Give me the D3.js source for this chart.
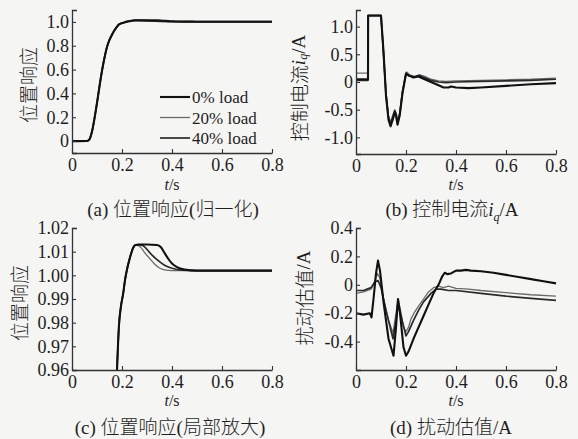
<!DOCTYPE html>
<html>
<head>
<meta charset="utf-8">
<script src="https://cdn.jsdelivr.net/npm/d3@7"></script>
<style>
  html, body { margin: 0; padding: 0; background: #f5f5f3; }
  svg { display: block; }
  text { fill: #1e1e1e; font-family: "Liberation Serif", "Noto Sans CJK SC", serif; }
  .cjk { font-family: "Noto Sans CJK SC", sans-serif; font-weight: 300; }
</style>
</head>
<body>
<svg id="fig" width="578" height="439"></svg>
<script>
// ---- data ----
const seriesNames = ["0% load", "20% load", "40% load"];

// shared time axis ticks
const xTicks = [0, 0.2, 0.4, 0.6, 0.8];
const xTickLabels = ["0", "0.2", "0.4", "0.6", "0.8"];

// (a)/(c) position response, normalised
const posRise = [
  [0, 0], [0.03, 0], [0.06, 0.001], [0.07, 0.015], [0.08, 0.08], [0.09, 0.19],
  [0.1, 0.32], [0.11, 0.46], [0.12, 0.59], [0.13, 0.7], [0.14, 0.79],
  [0.15, 0.85], [0.16, 0.893], [0.17, 0.93], [0.18, 0.96], [0.188, 0.979],
  [0.196, 0.987], [0.205, 0.9925], [0.212, 0.998], [0.22, 1.0025],
  [0.228, 1.006], [0.236, 1.009], [0.244, 1.0115], [0.252, 1.0127]
];
const posTail0 = [
  [0.27, 1.013], [0.3, 1.013], [0.34, 1.0128], [0.355, 1.012], [0.37, 1.0095],
  [0.385, 1.007], [0.4, 1.005], [0.42, 1.0035], [0.45, 1.0025], [0.5, 1.002],
  [0.6, 1.002], [0.8, 1.002]
];
const posTail20 = [
  [0.262, 1.0127], [0.275, 1.0118], [0.29, 1.0097], [0.31, 1.0072],
  [0.33, 1.0048], [0.35, 1.0031], [0.37, 1.0023], [0.4, 1.002], [0.8, 1.002]
];
const posTail40 = [
  [0.265, 1.013], [0.285, 1.0125], [0.31, 1.0097], [0.34, 1.0066],
  [0.37, 1.0043], [0.4, 1.003], [0.44, 1.0022], [0.5, 1.002], [0.8, 1.002]
];

// (b) control current i_q / A
const iq0 = [
  [0, 0.05], [0.048, 0.05], [0.0485, 1.2], [0.1, 1.2], [0.11, 0.55], [0.12, -0.25],
  [0.13, -0.68], [0.138, -0.8], [0.147, -0.68], [0.155, -0.55], [0.16, -0.6],
  [0.166, -0.77], [0.175, -0.6], [0.186, -0.2], [0.2, 0.15], [0.21, 0.12],
  [0.23, 0.08], [0.25, 0.1], [0.27, 0.06], [0.3, 0.0], [0.33, -0.06],
  [0.35, -0.1], [0.37, -0.1], [0.38, -0.08], [0.4, -0.1], [0.45, -0.11],
  [0.5, -0.1], [0.6, -0.07], [0.7, -0.04], [0.8, -0.02]
];
const iq20 = [
  [0, 0.16], [0.048, 0.16], [0.0485, 1.2], [0.1, 1.2], [0.11, 0.5], [0.12, -0.2],
  [0.13, -0.62], [0.138, -0.72], [0.147, -0.6], [0.155, -0.5], [0.16, -0.55],
  [0.166, -0.7], [0.175, -0.55], [0.186, -0.15], [0.202, 0.18], [0.215, 0.13],
  [0.235, 0.1], [0.255, 0.13], [0.275, 0.1], [0.3, 0.05], [0.33, 0.02],
  [0.36, 0.01], [0.4, 0.02], [0.5, 0.03], [0.6, 0.04], [0.7, 0.05], [0.8, 0.07]
];
const iq40 = [
  [0, 0.03], [0.048, 0.03], [0.0485, 1.2], [0.1, 1.2], [0.11, 0.52], [0.12, -0.22],
  [0.13, -0.65], [0.138, -0.76], [0.147, -0.64], [0.155, -0.52], [0.16, -0.58],
  [0.166, -0.74], [0.175, -0.58], [0.186, -0.18], [0.2, 0.16], [0.212, 0.11],
  [0.232, 0.09], [0.252, 0.12], [0.272, 0.08], [0.3, 0.03], [0.33, 0.0],
  [0.36, -0.01], [0.4, 0.0], [0.5, 0.01], [0.6, 0.02], [0.7, 0.03], [0.8, 0.05]
];

// (d) disturbance estimate / A
const dist0 = [
  [0, -0.2], [0.03, -0.21], [0.055, -0.2], [0.062, -0.23], [0.07, -0.1],
  [0.08, 0.08], [0.088, 0.17], [0.096, 0.1], [0.11, -0.12], [0.13, -0.38],
  [0.15, -0.5], [0.16, -0.3], [0.168, -0.1], [0.176, -0.2], [0.19, -0.44],
  [0.2, -0.5], [0.21, -0.47], [0.23, -0.38], [0.25, -0.3], [0.27, -0.22],
  [0.29, -0.14], [0.31, -0.06], [0.33, 0.0], [0.345, 0.06], [0.355, 0.085],
  [0.365, 0.075], [0.38, 0.08], [0.4, 0.1], [0.42, 0.1], [0.44, 0.105],
  [0.46, 0.1], [0.5, 0.095], [0.55, 0.085], [0.6, 0.07], [0.65, 0.055],
  [0.7, 0.04], [0.75, 0.025], [0.8, 0.01]
];
const dist20 = [
  [0, -0.06], [0.03, -0.05], [0.06, -0.03], [0.07, 0.0], [0.085, 0.08],
  [0.095, 0.05], [0.11, -0.1], [0.13, -0.25], [0.148, -0.34], [0.16, -0.2],
  [0.168, -0.1], [0.178, -0.18], [0.19, -0.3], [0.2, -0.33], [0.21, -0.3],
  [0.22, -0.24], [0.235, -0.19], [0.25, -0.15], [0.27, -0.1], [0.29, -0.05],
  [0.31, -0.02], [0.33, -0.01], [0.35, -0.02], [0.37, -0.01], [0.4, -0.025],
  [0.45, -0.03], [0.5, -0.04], [0.6, -0.055], [0.7, -0.07], [0.8, -0.08]
];
const dist40 = [
  [0, -0.04], [0.03, -0.04], [0.06, -0.02], [0.075, 0.02], [0.088, 0.03],
  [0.1, -0.02], [0.12, -0.18], [0.148, -0.38], [0.16, -0.25], [0.168, -0.13],
  [0.18, -0.22], [0.2, -0.36], [0.21, -0.33], [0.23, -0.25], [0.25, -0.18],
  [0.27, -0.12], [0.3, -0.06], [0.32, -0.03], [0.34, -0.03], [0.37, -0.04],
  [0.4, -0.04], [0.5, -0.06], [0.6, -0.08], [0.7, -0.095], [0.8, -0.11]
];

// y ticks per panel
const aTicks = [0, 0.2, 0.4, 0.6, 0.8, 1.0];
const aTickLabels = ["0", "0.2", "0.4", "0.6", "0.8", "1.0"];
const bTicks = [-1.0, -0.5, 0, 0.5, 1.0];
const bTickLabels = ["-1.0", "-0.5", "0", "0.5", "1.0"];
const cTicks = [0.96, 0.97, 0.98, 0.99, 1.00, 1.01, 1.02];
const cTickLabels = ["0.96", "0.97", "0.98", "0.99", "1.00", "1.01", "1.02"];
const dTicks = [-0.4, -0.2, 0, 0.2, 0.4];
const dTickLabels = ["-0.4", "-0.2", "0", "0.2", "0.4"];

// ---- styles per series ----
const seriesStroke = ["#111", "#6a6a6a", "#2a2a2a"];
const seriesWidth = [2.1, 1.3, 1.7];

const svg = d3.select("#fig");

function panel(opts) {
  const { id, left, top, bottom, yDomain, yTicks, yLabels, lines, curve } = opts;
  const width = 200;
  const x = d3.scaleLinear().domain([0, 0.8]).range([left, left + width]);
  const y = d3.scaleLinear().domain(yDomain).range([bottom, top]);

  const clipId = "clip-" + id;
  svg.append("clipPath").attr("id", clipId)
    .append("rect").attr("x", left).attr("y", top - 2)
    .attr("width", width + 2).attr("height", bottom - top + 2);

  const gl = svg.append("g").attr("clip-path", `url(#${clipId})`);
  const line = d3.line().x(d => x(d[0])).y(d => y(d[1])).curve(curve || d3.curveLinear);
  lines.forEach((pts, i) => {
    gl.append("path").datum(pts)
      .attr("fill", "none")
      .attr("stroke", seriesStroke[i])
      .attr("stroke-width", seriesWidth[i])
      .attr("stroke-linejoin", "round")
      .attr("d", line);
  });
  // black series sits on top
  gl.selectAll("path").filter((d, i) => i === 0).raise();

  const xAxis = d3.axisBottom(x).tickValues(xTicks)
    .tickFormat((d, i) => xTickLabels[i])
    .tickSizeInner(-4).tickSizeOuter(0).tickPadding(5);
  const gx = svg.append("g").attr("transform", `translate(0,${bottom})`).call(xAxis);

  const yAxis = d3.axisLeft(y).tickValues(yTicks)
    .tickFormat((d, i) => yLabels[i])
    .tickSizeInner(-4).tickSizeOuter(-5).tickPadding(3);
  const gy = svg.append("g").attr("transform", `translate(${left},0)`).call(yAxis);

  [gx, gy].forEach(g => {
    g.select(".domain").attr("stroke", "#333").attr("stroke-width", 1.3);
    g.selectAll(".tick line").attr("stroke", "#333").attr("stroke-width", 1.1);
    g.selectAll(".tick text").attr("font-size", 18)
      .attr("font-family", "Liberation Serif").attr("fill", "#1e1e1e");
  });
  return { x, y };
}

const lineA = [posRise.concat(posTail0), posRise.concat(posTail20), posRise.concat(posTail40)];

panel({ id: "a", left: 72, top: 10, bottom: 153, yDomain: [-0.1, 1.1],
  yTicks: aTicks, yLabels: aTickLabels, lines: lineA, curve: d3.curveMonotoneX });
panel({ id: "b", left: 356, top: 10, bottom: 154, yDomain: [-1.3, 1.3],
  yTicks: bTicks, yLabels: bTickLabels, lines: [iq0, iq20, iq40] });
panel({ id: "c", left: 72, top: 228, bottom: 370, yDomain: [0.96, 1.02],
  yTicks: cTicks, yLabels: cTickLabels, lines: lineA, curve: d3.curveMonotoneX });
panel({ id: "d", left: 356, top: 228, bottom: 370, yDomain: [-0.6, 0.4],
  yTicks: dTicks, yLabels: dTickLabels, lines: [dist0, dist20, dist40] });

// ---- legend in (a) ----
const legend = svg.append("g");
seriesNames.forEach((name, i) => {
  const yy = 97 + i * 20.5;
  legend.append("line").attr("x1", 160).attr("x2", 190).attr("y1", yy).attr("y2", yy)
    .attr("stroke", seriesStroke[i]).attr("stroke-width", seriesWidth[i]);
  legend.append("text").attr("x", 192).attr("y", yy + 6)
    .attr("font-size", 17).text(name);
});

// ---- axis titles & captions ----
function tLabel(cx, baseline) {
  const t = svg.append("text").attr("x", cx).attr("y", baseline)
    .attr("text-anchor", "middle").attr("font-size", 16);
  t.append("tspan").attr("font-style", "italic").text("t");
  t.append("tspan").text("/s");
}
tLabel(172, 190);
tLabel(456, 190);
tLabel(172, 406);
tLabel(456, 406);

// text built from runs: CJK runs, italic symbols, subscripts
function richText(t, parts) {
  parts.forEach(p => {
    const s = t.append("tspan").text(p.text);
    if (p.cjk) s.attr("class", "cjk");
    if (p.italic) s.attr("font-style", "italic");
    if (p.sub) s.attr("font-size", 12).attr("dy", 5);
    if (p.unsub) s.attr("dy", -5);
  });
}
function yTitle(cx, cy, parts) {
  const t = svg.append("text")
    .attr("transform", `translate(${cx},${cy}) rotate(-90)`)
    .attr("text-anchor", "middle").attr("dominant-baseline", "central")
    .attr("font-size", 19);
  richText(t, parts);
}
yTitle(27, 85, [{ text: "位置响应", cjk: true }]);
yTitle(298, 88, [{ text: "控制电流", cjk: true }, { text: "i", italic: true }, { text: "q", italic: true, sub: true }, { text: "/A", unsub: true }]);
yTitle(18, 303, [{ text: "位置响应", cjk: true }]);
yTitle(303, 298, [{ text: "扰动估值", cjk: true }, { text: "/A" }]);

function caption(cx, baseline, parts) {
  const t = svg.append("text").attr("x", cx).attr("y", baseline)
    .attr("text-anchor", "middle").attr("font-size", 19);
  richText(t, parts);
}
caption(173, 216, [{ text: "(a) " }, { text: "位置响应", cjk: true }, { text: "(" }, { text: "归一化", cjk: true }, { text: ")" }]);
caption(452, 216, [{ text: "(b) " }, { text: "控制电流", cjk: true }, { text: "i", italic: true }, { text: "q", italic: true, sub: true }, { text: "/A", unsub: true }]);
caption(170, 434, [{ text: "(c) " }, { text: "位置响应", cjk: true }, { text: "(" }, { text: "局部放大", cjk: true }, { text: ")" }]);
caption(451, 434, [{ text: "(d) " }, { text: "扰动估值", cjk: true }, { text: "/A" }]);
</script>
</body>
</html>
